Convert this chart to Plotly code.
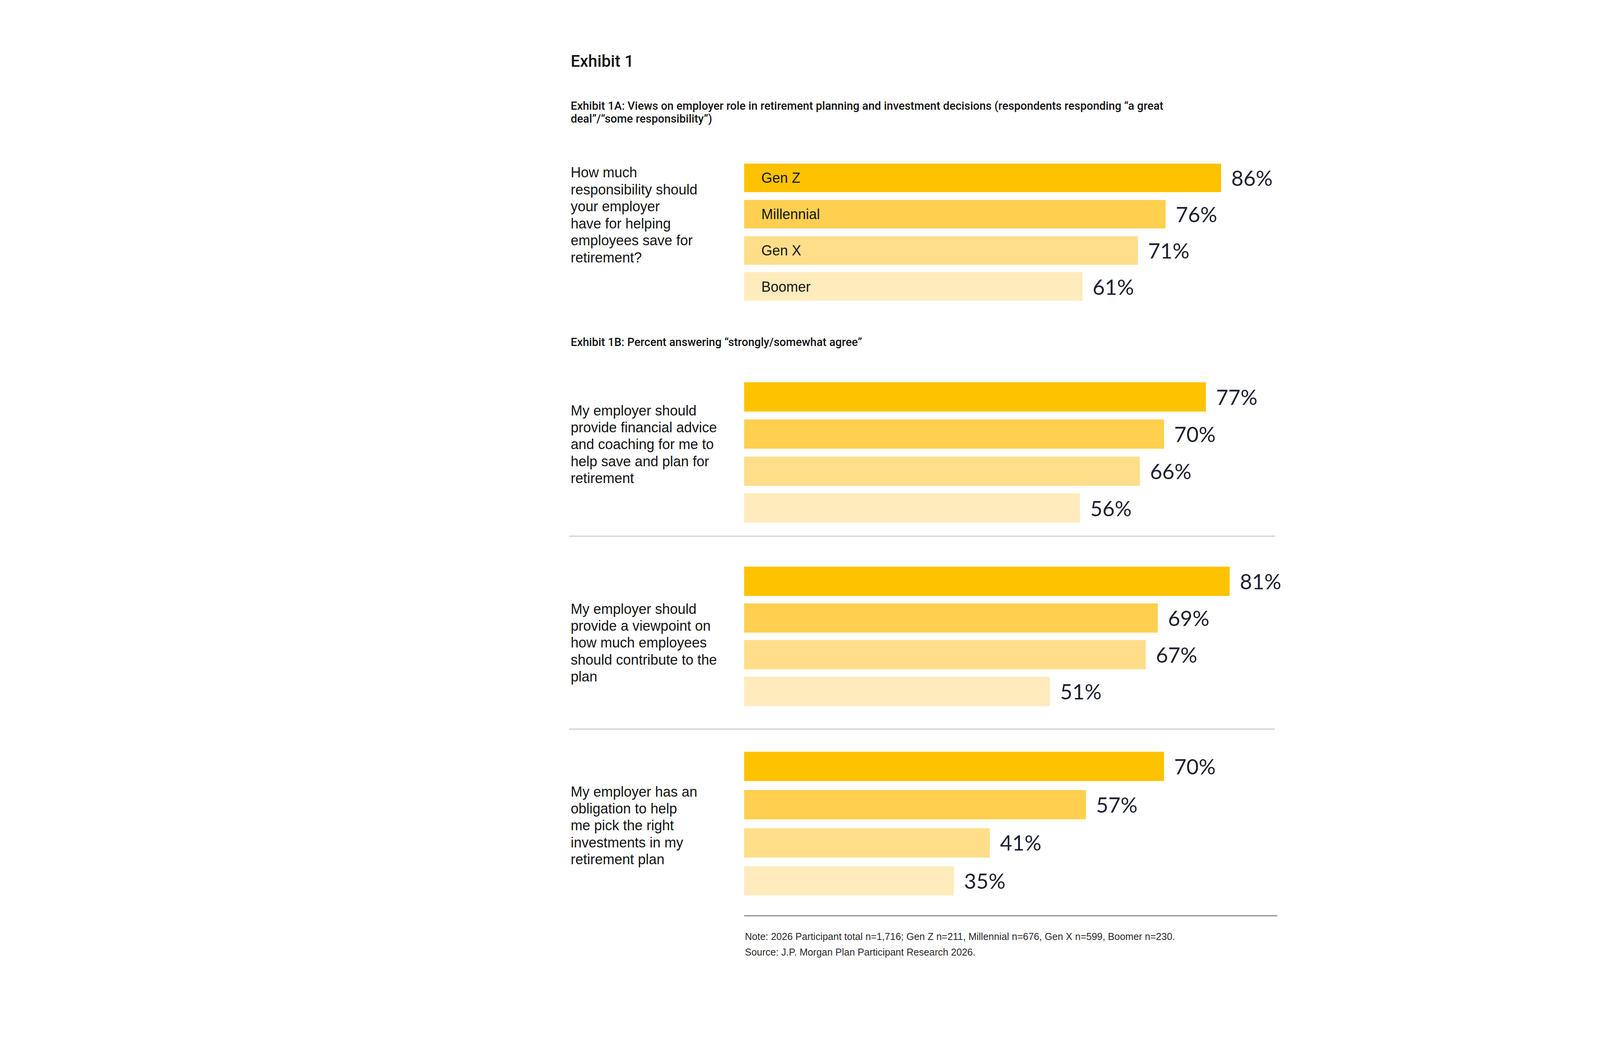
import plotly.graph_objects as go

# ---------------- data ----------------
generations = ["Gen Z", "Millennial", "Gen X", "Boomer"]
gen_colors = ["#FFC200", "#FFD04F", "#FFDE8A", "#FFEBBB"]

values_1a = [86, 76, 71, 61]
values_advice = [77, 70, 66, 56]
values_viewpoint = [81, 69, 67, 51]
values_invest = [70, 57, 41, 35]

question_1a = ["How much", "responsibility should", "your employer",
               "have for helping", "employees save for", "retirement?"]
question_advice = ["My employer should", "provide financial advice",
                   "and coaching for me to", "help save and plan for", "retirement"]
question_viewpoint = ["My employer should", "provide a viewpoint on",
                      "how much employees", "should contribute to the", "plan"]
question_invest = ["My employer has an", "obligation to help",
                   "me pick the right", "investments in my", "retirement plan"]

title_text = "Exhibit 1"
subtitle_1a = ["Exhibit 1A: Views on employer role in retirement planning and investment decisions (respondents responding \u201ca great",
               "deal\u201d/\u201csome responsibility\u201d)"]
subtitle_1b = "Exhibit 1B: Percent answering \u201cstrongly/somewhat agree\u201d"
note_text = "Note: 2026 Participant total n=1,716; Gen Z n=211, Millennial n=676, Gen X n=599, Boomer n=230."
source_text = "Source: J.P. Morgan Plan Participant Research 2026."

# ---------------- layout constants (pixels) ----------------
W, H = 5157, 2699
BODY = "Liberation Sans, Arial, sans-serif"
HEAD = "Roboto, Liberation Sans, sans-serif"
NUM = "Lato, Liberation Sans, sans-serif"
TXT = "#141414"
NUMC = "#1c2130"

LEFT_X = 1451
BAR_X0 = 1897
AX_X1 = 3300
LINE_H = 43.4

panels = [
    dict(vals=values_1a, q=question_1a, c0=447.5, c1=726.0, bh=73, ppp=14.2, ty=434, gen=True),
    dict(vals=values_advice, q=question_advice, c0=1008.5, c1=1293.0, bh=75, ppp=15.35, ty=1043, gen=False),
    dict(vals=values_viewpoint, q=question_viewpoint, c0=1480.5, c1=1763.0, bh=75, ppp=15.35, ty=1551, gen=False),
    dict(vals=values_invest, q=question_invest, c0=1954.5, c1=2247.5, bh=75, ppp=15.35, ty=2019, gen=False),
]


def py(p):
    return 1 - p / H


def px(p):
    return p / W


fig = go.Figure()
annotations = []
layout_axes = {}

for i, p in enumerate(panels, start=1):
    pitch = (p["c1"] - p["c0"]) / 3
    top = p["c0"] - pitch / 2
    bot = p["c1"] + pitch / 2
    xname = "x" if i == 1 else f"x{i}"
    yname = "y" if i == 1 else f"y{i}"
    xkey = "xaxis" if i == 1 else f"xaxis{i}"
    ykey = "yaxis" if i == 1 else f"yaxis{i}"
    xmax = (AX_X1 - BAR_X0) / p["ppp"]

    fig.add_trace(go.Bar(
        x=p["vals"], y=generations, orientation="h",
        marker=dict(color=gen_colors, line=dict(width=0)),
        width=p["bh"] / pitch,
        xaxis=xname, yaxis=yname, hoverinfo="skip", showlegend=False,
    ))

    layout_axes[xkey] = dict(domain=[px(BAR_X0), px(AX_X1)], range=[0, xmax],
                             visible=False, fixedrange=True, anchor=yname)
    layout_axes[ykey] = dict(domain=[py(bot), py(top)], type="category",
                             categoryarray=generations, range=[3.5, -0.5],
                             visible=False, fixedrange=True, anchor=xname)

    for g, v in zip(generations, p["vals"]):
        annotations.append(dict(
            x=v, y=g, xref=xname, yref=yname, text=f"{v}%", showarrow=False,
            xanchor="left", yanchor="middle", xshift=24,
            font=dict(family=NUM, size=54, color=NUMC)))
        if p["gen"]:
            annotations.append(dict(
                x=0, y=g, xref=xname, yref=yname, text=g, showarrow=False,
                xanchor="left", yanchor="middle", xshift=42,
                font=dict(family=BODY, size=36, color=TXT)))

    for k, line in enumerate(p["q"]):
        annotations.append(dict(
            x=px(LEFT_X), y=py(p["ty"] + k * LINE_H), xref="paper", yref="paper",
            text=line, showarrow=False, xanchor="left", yanchor="middle",
            font=dict(family=BODY, size=36, color=TXT)))

# titles
annotations.append(dict(x=px(LEFT_X), y=py(149), xref="paper", yref="paper", text=title_text,
                        showarrow=False, xanchor="left", yanchor="middle",
                        font=dict(family=HEAD, size=42, color=TXT, weight=500)))
for k, line in enumerate(subtitle_1a):
    annotations.append(dict(x=px(LEFT_X), y=py(263 + k * 33), xref="paper", yref="paper", text=line,
                            showarrow=False, xanchor="left", yanchor="middle",
                            font=dict(family=HEAD, size=29, color=TXT, weight=500)))
annotations.append(dict(x=px(LEFT_X), y=py(868), xref="paper", yref="paper", text=subtitle_1b,
                        showarrow=False, xanchor="left", yanchor="middle",
                        font=dict(family=HEAD, size=29, color=TXT, weight=500)))
annotations.append(dict(x=px(BAR_X0), y=py(2390), xref="paper", yref="paper", text=note_text,
                        showarrow=False, xanchor="left", yanchor="middle",
                        font=dict(family=BODY, size=25, color="#2a2a2a")))
annotations.append(dict(x=px(BAR_X0), y=py(2430), xref="paper", yref="paper", text=source_text,
                        showarrow=False, xanchor="left", yanchor="middle",
                        font=dict(family=BODY, size=25, color="#2a2a2a")))

shapes = [
    dict(type="line", xref="paper", yref="paper", x0=px(1449), x1=px(3256), y0=py(1365), y1=py(1365),
         line=dict(color="#CFCFCF", width=3)),
    dict(type="line", xref="paper", yref="paper", x0=px(1449), x1=px(3256), y0=py(1859), y1=py(1859),
         line=dict(color="#CFCFCF", width=3)),
    dict(type="line", xref="paper", yref="paper", x0=px(BAR_X0), x1=px(3262), y0=py(2337), y1=py(2337),
         line=dict(color="#8A8A8A", width=3)),
]

fig.update_layout(
    width=W, height=H,
    margin=dict(l=0, r=0, t=0, b=0),
    paper_bgcolor="white", plot_bgcolor="white",
    annotations=annotations, shapes=shapes,
    bargap=0, showlegend=False,
    **layout_axes,
)

fig.write_html("out.html")
